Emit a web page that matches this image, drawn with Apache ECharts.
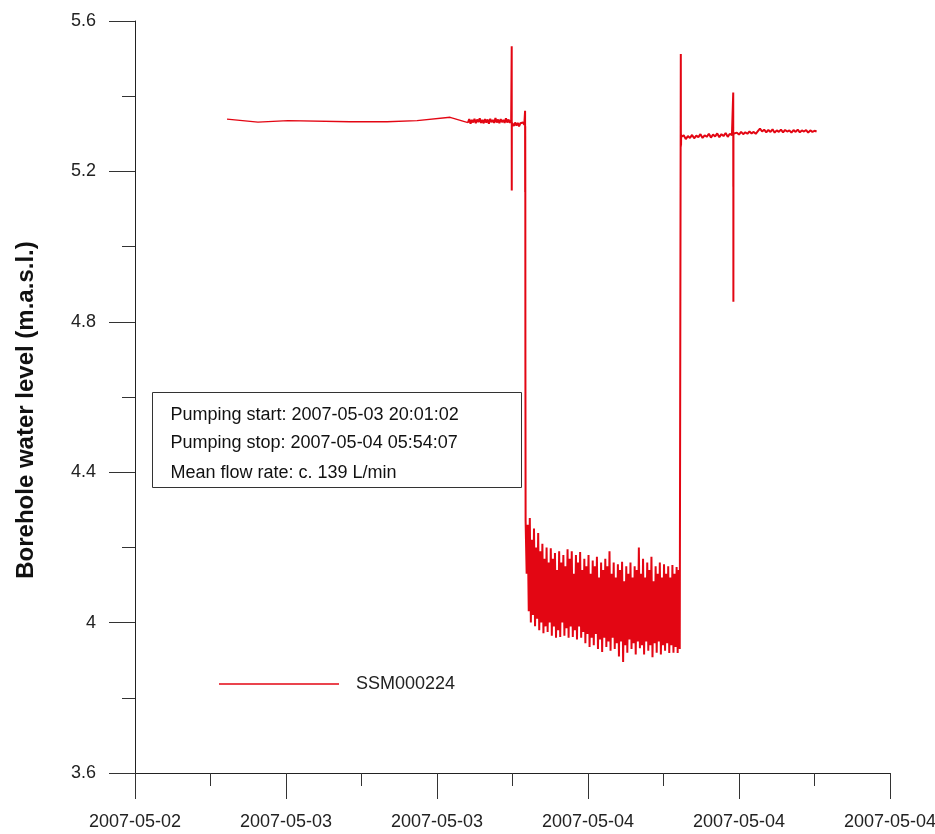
<!DOCTYPE html>
<html>
<head>
<meta charset="utf-8">
<title>SSM000224 borehole water level</title>
<script src="https://cdn.jsdelivr.net/npm/echarts@6/dist/echarts.min.js"></script>
<style>
  html, body { margin: 0; padding: 0; background: #fff; }
  #chart { width: 935px; height: 834px; }
</style>
</head>
<body>
<div id="chart"></div>
<script>
// x values are minutes since 2007-05-02 00:00
var ORIGIN = Date.UTC(2007, 4, 2);
var FONT = 'Liberation Sans, Arial, Helvetica, sans-serif';
var RED = '#e30613';

// manual readings before the logger
var manualTimes = ['2007-05-03 01:03', '2007-05-03 03:01', '2007-05-03 04:56', '2007-05-03 08:52',
    '2007-05-03 11:13', '2007-05-03 13:08', '2007-05-03 15:14'];
var manualLevels = [5.339, 5.331, 5.335, 5.332, 5.332, 5.335, 5.344];

// logger, before pumping (5 min steps)
var preLevels = [5.330, 5.339, 5.327, 5.337, 5.330, 5.340, 5.328, 5.338, 5.331, 5.341, 5.329, 5.337,
    5.328, 5.339, 5.330, 5.338, 5.327, 5.340, 5.331, 5.337, 5.329, 5.342, 5.330, 5.338, 5.328, 5.339,
    5.331, 5.337, 5.329, 5.341, 5.330, 5.338, 5.329, 5.336];
var preSpike = [5.533, 5.149, 5.330];
var preLevels2 = [5.326, 5.321, 5.330, 5.322, 5.329, 5.320, 5.328, 5.323, 5.330, 5.324];
var startDrop = [5.361, 5.145, 5.320, 5.142, 4.700];

// pumping period (alternating peaks and troughs, 4 min steps)
var pumpHigh = [4.270, 4.260, 4.278, 4.220, 4.250, 4.200, 4.238, 4.190, 4.210, 4.170, 4.200, 4.160,
    4.198, 4.170, 4.185, 4.140, 4.190, 4.160, 4.180, 4.150, 4.195, 4.170, 4.190, 4.130, 4.180, 4.160,
    4.188, 4.140, 4.170, 4.150, 4.180, 4.130, 4.165, 4.150, 4.175, 4.120, 4.160, 4.140, 4.170, 4.150,
    4.190, 4.130, 4.160, 4.120, 4.155, 4.140, 4.162, 4.110, 4.150, 4.130, 4.160, 4.120, 4.150, 4.140,
    4.200, 4.130, 4.170, 4.120, 4.160, 4.140, 4.175, 4.110, 4.150, 4.130, 4.160, 4.120, 4.155, 4.130,
    4.150, 4.120, 4.153, 4.130, 4.148, 4.140];
var pumpLow = [4.130, 4.030, 4.000, 4.020, 3.990, 4.010, 3.980, 4.000, 3.972, 3.990, 3.975, 4.000,
    3.965, 3.990, 3.960, 3.980, 3.962, 4.000, 3.965, 3.985, 3.960, 3.990, 3.962, 3.980, 3.955, 3.990,
    3.960, 3.975, 3.945, 3.970, 3.935, 3.960, 3.940, 3.970, 3.930, 3.955, 3.922, 3.960, 3.935, 3.950,
    3.925, 3.960, 3.930, 3.945, 3.910, 3.950, 3.895, 3.940, 3.920, 3.955, 3.930, 3.945, 3.915, 3.950,
    3.932, 3.940, 3.915, 3.950, 3.925, 3.940, 3.908, 3.945, 3.920, 3.950, 3.915, 3.940, 3.925, 3.945,
    3.919, 3.940, 3.920, 3.935, 3.919, 3.930];

// recovery
var stopRise = [5.512, 5.266, 5.300, 5.270, 5.292];
var postLevels = [5.290, 5.296, 5.286, 5.294, 5.289, 5.297, 5.288, 5.295, 5.291, 5.299, 5.289, 5.296,
    5.292, 5.300, 5.290, 5.298, 5.293, 5.301, 5.291, 5.299, 5.294, 5.302, 5.292, 5.300, 5.296];
var postSpike = [5.410, 5.159, 5.300, 4.853, 5.300];
var postLevels2 = [5.297, 5.303, 5.298, 5.305, 5.299, 5.304, 5.300, 5.306, 5.301, 5.305, 5.300, 5.307,
    5.314, 5.306, 5.311, 5.304, 5.310, 5.305, 5.312, 5.303, 5.309, 5.305, 5.311, 5.304, 5.310, 5.306,
    5.309, 5.303, 5.310, 5.305, 5.311, 5.304, 5.309, 5.306, 5.310, 5.303, 5.309, 5.305, 5.308, 5.306];

var infoLines = ['Pumping start: 2007-05-03 20:01:02', 'Pumping stop: 2007-05-04 05:54:07',
    'Mean flow rate: c. 139 L/min'];

function toMin(s) {
  var d = s.split(/[- :]/).map(Number);
  return (Date.UTC(d[0], d[1] - 1, d[2], d[3], d[4]) - ORIGIN) / 60000;
}
function run(start, step, values) {
  var t0 = toMin(start);
  return values.map(function (v, i) { return [t0 + i * step, v]; });
}

var pumpValues = [];
for (var i = 0; i < pumpHigh.length; i++) {
  pumpValues.push(pumpHigh[i], pumpLow[i]);
}

var loggerData = run('2007-05-03 16:22', 5, preLevels)
  .concat(run('2007-05-03 19:09', 0.2, preSpike))
  .concat(run('2007-05-03 19:12', 5, preLevels2))
  .concat(run('2007-05-03 20:00', 0.3, startDrop))
  .concat(run('2007-05-03 20:02', 4, pumpValues))
  .concat(run('2007-05-04 05:54', 0.3, stopRise))
  .concat(run('2007-05-04 05:57', 8, postLevels))
  .concat(run('2007-05-04 09:14', 0.2, postSpike))
  .concat(run('2007-05-04 09:20', 8, postLevels2));

var manualData = manualTimes.map(function (t, i) { return [toMin(t), manualLevels[i]]; })
  .concat([loggerData[0]]);

var chart = echarts.init(document.getElementById('chart'));
var option = {
  backgroundColor: '#fff',
  animation: false,
  textStyle: { fontFamily: FONT },
  grid: { left: 135, top: 21, width: 755, height: 752, containLabel: false, outerBoundsMode: 'none' },
  legend: {
    left: 214,
    top: 670,
    icon: 'rect',
    itemWidth: 120,
    itemHeight: 1.5,
    textStyle: { fontSize: 18, color: '#222', fontFamily: FONT, padding: [0, 0, 0, 12] },
    data: ['SSM000224']
  },
  xAxis: {
    type: 'value',
    min: 1152,
    max: 4032,
    interval: 576,
    axisLine: { lineStyle: { color: '#222', width: 1 } },
    axisTick: { length: 26, lineStyle: { color: '#333' } },
    minorTick: { show: true, splitNumber: 2, length: 13, lineStyle: { color: '#333' } },
    splitLine: { show: false },
    axisLabel: {
      margin: 40,
      fontSize: 18,
      color: '#222',
      fontFamily: FONT,
      formatter: function (v) {
        return new Date(ORIGIN + v * 60000).toISOString().slice(0, 10);
      }
    }
  },
  yAxis: {
    type: 'value',
    min: 3.6,
    max: 5.6,
    interval: 0.4,
    axisLine: { show: true, lineStyle: { color: '#222', width: 1 } },
    axisTick: { show: true, length: 26, lineStyle: { color: '#333' } },
    minorTick: { show: true, splitNumber: 2, length: 13, lineStyle: { color: '#333' } },
    splitLine: { show: false },
    axisLabel: { margin: 39, fontSize: 18, color: '#222', fontFamily: FONT }
  },
  graphic: [{
    type: 'text',
    x: 26,
    y: 410,
    rotation: Math.PI / 2,
    style: {
      text: 'Borehole water level (m.a.s.l.)',
      font: 'bold 24px ' + FONT,
      fill: '#111',
      textAlign: 'center',
      textVerticalAlign: 'middle'
    }
  }, {
    type: 'group',
    left: 152,
    top: 392,
    children: [{
      type: 'rect',
      shape: { x: 0, y: 0, width: 369, height: 95 },
      style: { fill: '#fff', stroke: '#333', lineWidth: 1 }
    }].concat(infoLines.map(function (t, i) {
      return {
        type: 'text',
        x: 18,
        y: [23, 51, 81][i],
        style: { text: t, font: '18px ' + FONT, fill: '#111', textVerticalAlign: 'middle' }
      };
    }))
  }],
  series: [{
    name: 'SSM000224',
    type: 'line',
    data: manualData,
    showSymbol: false,
    symbol: 'none',
    itemStyle: { color: RED },
    lineStyle: { color: RED, width: 1.3 },
    z: 3
  }, {
    name: 'SSM000224',
    type: 'line',
    data: loggerData,
    showSymbol: false,
    symbol: 'none',
    sampling: null,
    itemStyle: { color: RED },
    lineStyle: { color: RED, width: 2 },
    z: 3
  }]
};
chart.setOption(option);
</script>
</body>
</html>
